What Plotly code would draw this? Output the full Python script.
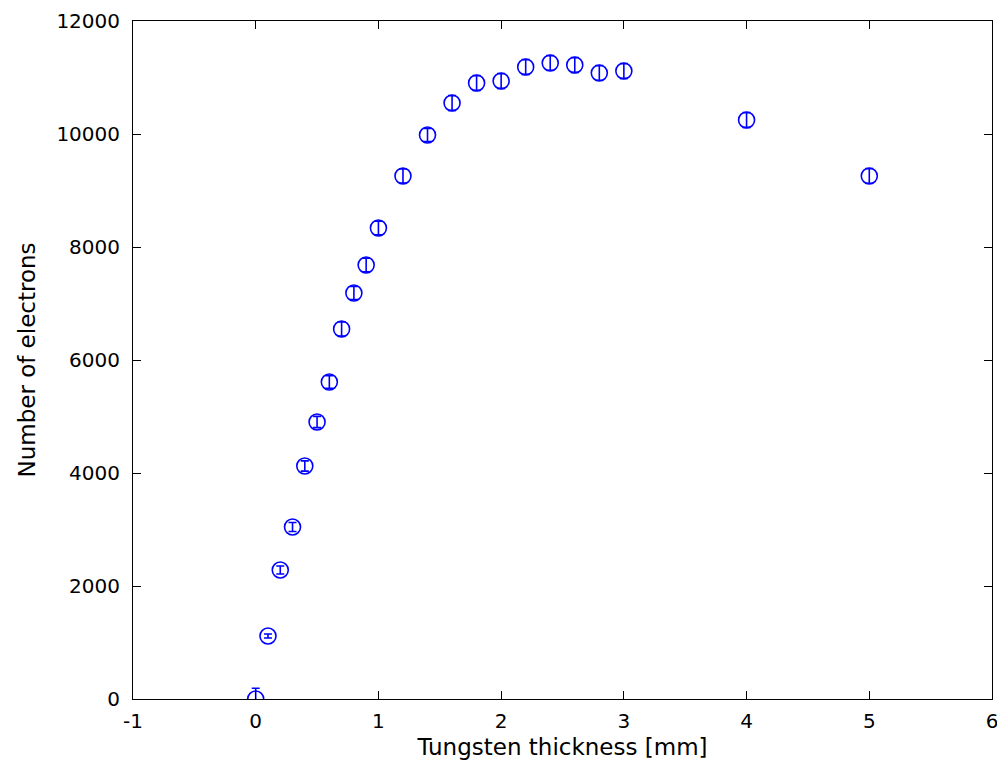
import plotly.graph_objects as go

thickness_mm = [0, 0.1, 0.2, 0.3, 0.4, 0.5, 0.6, 0.7, 0.8, 0.9, 1.0, 1.2, 1.4, 1.6, 1.8,
                2.0, 2.2, 2.4, 2.6, 2.8, 3.0, 4.0, 5.0]
electrons = [0, 1115, 2283, 3044, 4124, 4903, 5611, 6549, 7186, 7681, 8336, 9257, 9982,
             10549, 10903, 10938, 11186, 11257, 11221, 11080, 11115, 10248, 9257]
errors = [190, 35, 70, 80, 90, 100, 110, 125, 115, 120, 120, 125, 115, 130, 130, 130,
          130, 130, 130, 130, 130, 130, 130]

x_ticks = [-1, 0, 1, 2, 3, 4, 5, 6]
y_ticks = [0, 2000, 4000, 6000, 8000, 10000, 12000]

FONT = "DejaVu Sans"

fig = go.Figure()
fig.add_trace(go.Scatter(
    x=thickness_mm, y=electrons, mode="markers",
    marker=dict(symbol="circle-open", size=16, color="#0000ff", line=dict(width=1.6, color="#0000ff")),
    error_y=dict(type="data", array=errors, visible=True, color="#0000ff", thickness=1.6, width=4),
    showlegend=False,
))

axis_common = dict(
    showline=True, linecolor="black", linewidth=1, mirror="ticks",
    ticks="inside", ticklen=8, tickcolor="black", tickwidth=1,
    showgrid=False, zeroline=False, automargin=False,
    tickfont=dict(family=FONT, size=20, color="black"),
)

fig.update_layout(
    width=997, height=768,
    margin=dict(l=125, r=13, t=13, b=77),
    paper_bgcolor="white", plot_bgcolor="white",
    xaxis=dict(range=[-1, 6], tickvals=x_ticks, ticktext=[str(v) for v in x_ticks],
               ticklabelstandoff=4,
               title=dict(text="Tungsten thickness [mm]", standoff=6,
                          font=dict(family=FONT, size=23, color="black")),
               **axis_common),
    yaxis=dict(range=[0, 12000], tickvals=y_ticks, ticktext=[str(v) for v in y_ticks],
               ticklabelstandoff=8,
               title=dict(text="Number of electrons", standoff=14,
                          font=dict(family=FONT, size=23, color="black")),
               **axis_common),
)

fig.write_html("out.html")
